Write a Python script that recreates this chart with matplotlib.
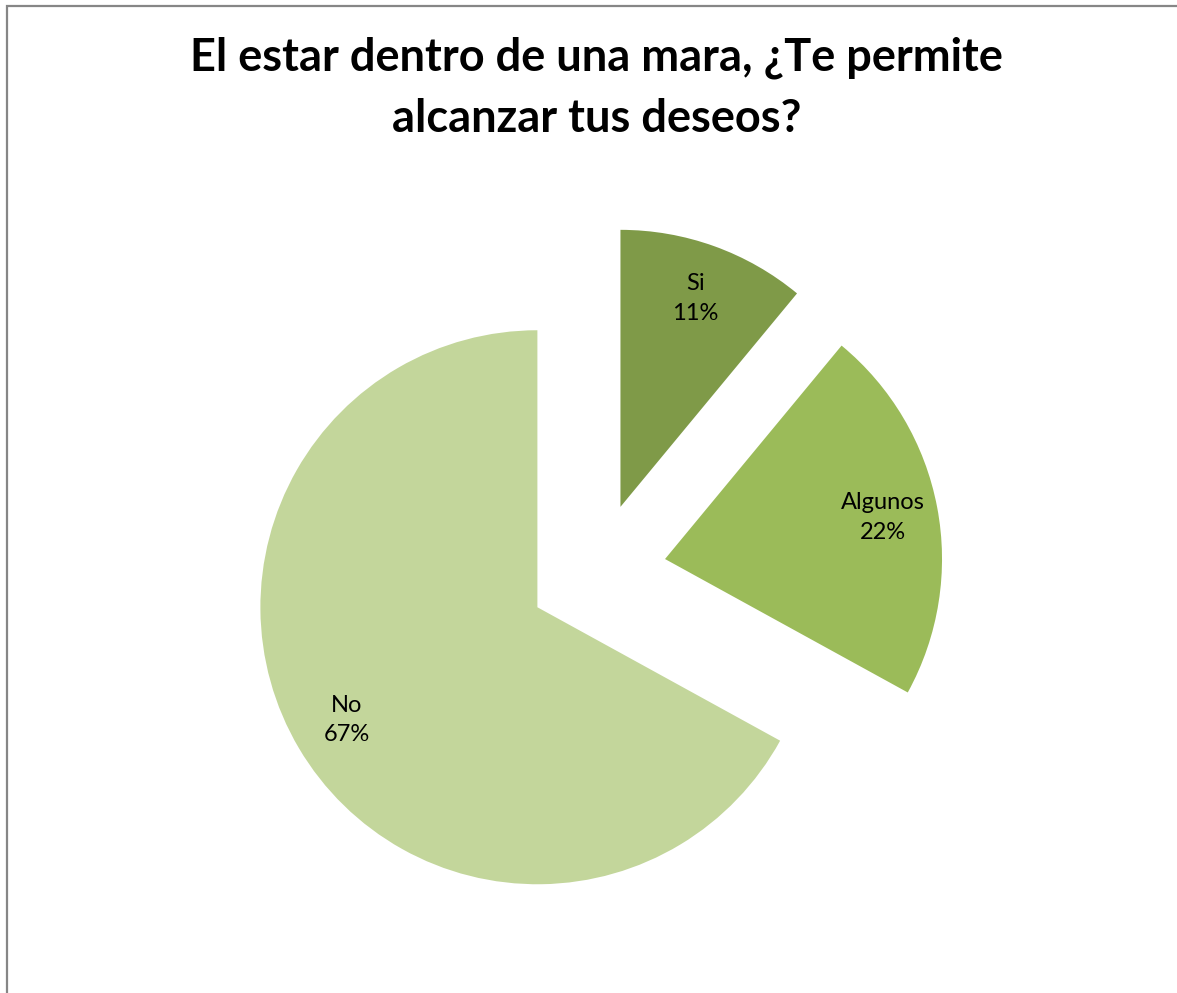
import matplotlib
matplotlib.use('Agg')
import matplotlib.pyplot as plt
from matplotlib.patches import Rectangle

# datos de la encuesta
categorias = ['Si', 'Algunos', 'No']
porcentajes = [11, 22, 67]
colores = ['#7F9A48', '#9BBB59', '#C3D69B']
titulo = 'El estar dentro de una mara, ¿Te permite\nalcanzar tus deseos?'

plt.rcParams['font.family'] = ['Lato', 'DejaVu Sans']

fig = plt.figure(figsize=(11.77, 9.93), dpi=100)
ax = fig.add_axes([0, 0, 1, 1])

wedges, texts, autotexts = ax.pie(
    porcentajes,
    explode=[0.25, 0.25, 0.25],
    colors=colores,
    startangle=90,
    counterclock=False,
    autopct='%1.0f%%',
    pctdistance=0.8,
    wedgeprops=dict(linewidth=0),
    textprops=dict(fontsize=17, color='black'),
)
for cat, t in zip(categorias, autotexts):
    t.set_text(cat + '\n' + t.get_text())
    t.set_linespacing(1.5)

# escala: radio = 277 px, centro en (597, 572) px
ax.set_xlim(-597 / 277, (1177 - 597) / 277)
ax.set_ylim(-(993 - 572) / 277, 572 / 277)
ax.set_aspect('equal')
ax.axis('off')

fig.text(0.507, 1 - 88 / 993, titulo, ha='center', va='center',
         fontsize=32.5, fontweight='bold', linespacing=1.55)

# borde del grafico
fig.patches.append(Rectangle((6.5 / 1177, -0.05), 1.1, 1 - 5.5 / 993 + 0.05,
                             transform=fig.transFigure, fill=False,
                             edgecolor='#868686', linewidth=1.6))

fig.savefig('out.png', dpi=100)
